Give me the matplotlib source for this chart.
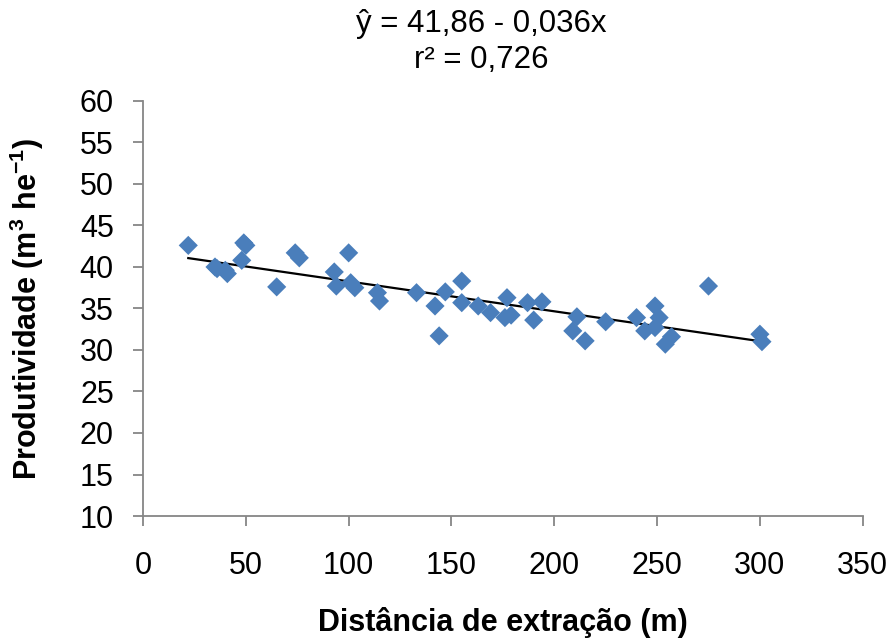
import matplotlib
matplotlib.use("Agg")
import matplotlib.pyplot as plt
import numpy as np

# distance (m) and productivity (m3 he-1)
distancia = [22, 35, 36, 40, 41, 48, 49, 50, 65, 74, 76, 93, 94, 100, 101, 103,
             114, 115, 133, 142, 144, 147, 155, 155, 163, 169, 176, 177, 179,
             187, 190, 194, 209, 211, 215, 225, 240, 244, 249, 249, 251, 254,
             257, 275, 300, 301]
produtividade = [42.6, 40.0, 39.8, 39.6, 39.2, 40.8, 42.9, 42.6, 37.6, 41.7,
                 41.1, 39.4, 37.7, 41.7, 38.1, 37.5, 36.9, 35.9, 36.9, 35.3,
                 31.7, 37.0, 38.3, 35.7, 35.3, 34.5, 33.9, 36.3, 34.2, 35.7,
                 33.6, 35.8, 32.3, 34.0, 31.1, 33.4, 33.9, 32.3, 35.3, 32.7,
                 33.9, 30.7, 31.6, 37.7, 31.9, 31.0]
intercepto = 41.86
inclinacao = -0.036

plt.rcParams['font.family'] = ['Liberation Sans', 'DejaVu Sans']
plt.rcParams['mathtext.fontset'] = 'custom'
plt.rcParams['mathtext.rm'] = 'Liberation Sans:bold'
plt.rcParams['mathtext.default'] = 'rm'

fig = plt.figure(figsize=(8.94, 6.43), dpi=100)
ax = fig.add_axes([0.16, 0.1975, 0.805, 0.6455])

ax.scatter(distancia, produtividade, marker='D', s=95, color='#4a7ebb',
           edgecolors='none', zorder=3)

xl = np.array([min(distancia), max(distancia)])
ax.plot(xl, intercepto + inclinacao * xl, color='black', lw=1.6, zorder=2)

ax.set_xlim(0, 350)
ax.set_ylim(10, 60)
ax.set_xticks(range(0, 351, 50))
ax.set_yticks(range(10, 61, 5))

for s in ['top', 'right']:
    ax.spines[s].set_visible(False)
for s in ['left', 'bottom']:
    ax.spines[s].set_color('#868686')
    ax.spines[s].set_linewidth(1.3)
ax.tick_params(direction='out', length=7, width=1.3, color='#868686',
               labelsize=22, labelcolor='black')
ax.tick_params(axis='x', pad=18)
ax.tick_params(axis='y', pad=14)

ax.set_xlabel('Distância de extração (m)', fontsize=22, fontweight='bold',
              labelpad=19)
ax.set_ylabel(r'Produtividade (m$^{3}$ he$^{-1}$)', fontsize=22,
              fontweight='bold', labelpad=24)

fig.text(0.538, 0.962, 'ŷ = 41,86 - 0,036x', ha='center', va='center', fontsize=22.5)
fig.text(0.538, 0.906, 'r² = 0,726', ha='center', va='center', fontsize=22.5)

fig.savefig('out.png', dpi=100)
